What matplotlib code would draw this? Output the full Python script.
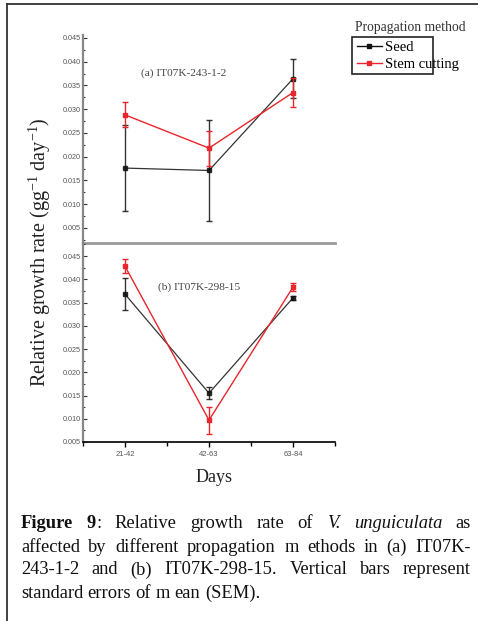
import matplotlib
matplotlib.use("Agg")
import matplotlib.pyplot as plt
from matplotlib.lines import Line2D
from matplotlib.patches import Rectangle
from matplotlib.ticker import MultipleLocator, FormatStrFormatter

# ---------------- data ----------------
days = ["21-42", "42-63", "63-84"]
yticks = [0.005, 0.010, 0.015, 0.020, 0.025, 0.030, 0.035, 0.040, 0.045]

a_seed = [0.0176, 0.0171, 0.0364]
a_seed_err = [0.0090, 0.0106, 0.0041]
a_stem = [0.0288, 0.0218, 0.0335]
a_stem_err = [0.0026, 0.0037, 0.0030]

b_seed = [0.0368, 0.0155, 0.0360]
b_seed_err = [0.0035, 0.0013, 0.0004]
b_stem = [0.0428, 0.0097, 0.0383]
b_stem_err = [0.0015, 0.0029, 0.0009]

series_labels = ["Seed", "Stem cutting"]
panel_labels = ["(a) IT07K-243-1-2", "(b) IT07K-298-15"]

SERIF = "Liberation Serif"
SANS = "Liberation Sans"
matplotlib.rcParams["mathtext.fontset"] = "custom"
matplotlib.rcParams["mathtext.rm"] = SERIF
matplotlib.rcParams["mathtext.it"] = SERIF + ":italic"
matplotlib.rcParams["mathtext.bf"] = SERIF + ":bold"
matplotlib.rcParams["mathtext.sf"] = SERIF
matplotlib.rcParams["mathtext.default"] = "rm"

# ---------------- figure ----------------
W, H = 478, 621
fig = plt.figure(figsize=(W / 100, H / 100), dpi=100)
RED = "#e8262b"
BLK = "#111111"


def fx(px):
    return px / W


def fy(py):
    return 1 - py / H


L, R = 83, 335
ax_a = fig.add_axes([fx(L), fy(243), fx(R) - fx(L), fy(35) - fy(243)])
ax_b = fig.add_axes([fx(L), fy(442), fx(R) - fx(L), fy(243) - fy(442)])

x = list(range(len(days)))


def draw(ax, seed, seed_err, stem, stem_err):
    ax.errorbar(x, stem, yerr=stem_err, color=RED, marker="s", markersize=3.5,
                lw=1.0, capsize=2.5, elinewidth=1.0, capthick=1.0, zorder=3)
    ax.errorbar(x, seed, yerr=seed_err, color=BLK, marker="s", markersize=3.5,
                lw=0.9, capsize=2.5, elinewidth=1.0, capthick=1.0, zorder=2,
                alpha=0.85)
    ax.set_xlim(-0.5, 2.5)
    ax.set_yticks(yticks)
    ax.yaxis.set_major_formatter(FormatStrFormatter("%.3f"))
    ax.yaxis.set_minor_locator(MultipleLocator(0.0025))
    ax.tick_params(axis="y", which="major", direction="in", length=3, width=0.8,
                   pad=1.5, labelsize=5.2, labelcolor="#555555", color="#333333")
    ax.tick_params(axis="y", which="minor", direction="in", length=1.5,
                   width=0.8, color="#333333")
    for lab in ax.get_yticklabels():
        lab.set_fontfamily(SANS)
    ax.spines["right"].set_visible(False)
    ax.spines["top"].set_visible(False)
    ax.spines["left"].set_color("#888888")
    ax.spines["left"].set_linewidth(1.6)
    ax.patch.set_alpha(0)


draw(ax_a, a_seed, a_seed_err, a_stem, a_stem_err)
draw(ax_b, b_seed, b_seed_err, b_stem, b_stem_err)
ax_a.set_ylim(0.00184, 0.0456)
ax_b.set_ylim(0.005, 0.0478)

# top panel: no x axis, grey separator as bottom spine
ax_a.set_xticks([])
ax_a.spines["bottom"].set_color("#999999")
ax_a.spines["bottom"].set_linewidth(2.0)

ax_b.set_xticks(x)
ax_b.set_xticklabels(days, fontfamily=SANS)
ax_b.xaxis.set_minor_locator(MultipleLocator(0.5))
ax_b.tick_params(axis="x", which="major", direction="out", length=3.5, width=1.0,
                 labelsize=5.5, labelcolor="#555555", pad=3)
ax_b.tick_params(axis="x", which="minor", direction="out", length=3, width=1.0)
ax_b.spines["bottom"].set_color("#111111")
ax_b.spines["bottom"].set_linewidth(1.3)

# panel annotations
fig.text(fx(141), fy(73), panel_labels[0], fontfamily=SERIF, fontsize=8.2,
         color="#444444", va="center", ha="left")
fig.text(fx(158), fy(287), panel_labels[1], fontfamily=SERIF, fontsize=8.2,
         color="#444444", va="center", ha="left")

# axis labels
fig.text(fx(40), fy(252), r"Relative growth rate (gg$^{-1}$ day$^{-1}$)",
         fontfamily=SERIF, fontsize=14.5, rotation=90, ha="center",
         va="center", color="#222222")
fig.text(fx(214), fy(477), "Days", fontfamily=SERIF, fontsize=13,
         ha="center", va="center", color="#222222")

# legend
handles = [Line2D([], [], color=BLK, marker="s", markersize=3.5, lw=1.0),
           Line2D([], [], color=RED, marker="s", markersize=3.5, lw=1.0)]
leg = fig.legend(handles, series_labels, loc="upper left",
                 bbox_to_anchor=(fx(357), fy(41)), frameon=False,
                 prop={"family": SERIF, "size": 10.5}, handlelength=1.7,
                 handletextpad=0.25, borderpad=0, labelspacing=0.25,
                 borderaxespad=0)
fig.text(fx(355), fy(28), "Propagation method", fontfamily=SERIF,
         fontsize=9.8, ha="left", va="center", color="#333333")
fig.add_artist(Rectangle((fx(352), fy(74)), fx(433) - fx(352), fy(37) - fy(74),
                         transform=fig.transFigure, fill=False,
                         edgecolor="#222222", lw=1.2))

# outer frame
fig.add_artist(Line2D([fx(7), fx(7)], [fy(4), 0], transform=fig.transFigure,
                      color="#333333", lw=1.3))
fig.add_artist(Line2D([fx(7), 1], [fy(4), fy(4)], transform=fig.transFigure,
                      color="#333333", lw=1.3))

# caption (justified)
B, N, I = "bold", "normal", "italic"
cap_lines = [
    [[("Figure", B)], [("9", B), (":", N)], [("Relative", N)], [("growth", N)],
     [("rate", N)], [("of", N)], [("V.", I)], [("unguiculata", I)], [("as", N)]],
    [[("affected", N)], [("by", N)], [("different", N)], [("propagation", N)],
     [("m", N)], [("ethods", N)], [("in", N)], [("(a)", N)], [("IT07K-", N)]],
    [[("243-1-2", N)], [("and", N)], [("(b)", N)], [("IT07K-298-15.", N)],
     [("Vertical", N)], [("bars", N)], [("represent", N)]],
    [[("standard", N)], [("errors", N)], [("of", N)], [("m", N)], [("ean", N)],
     [("(SEM).", N)]],
]
cap_y = [523, 547, 570, 593]
X0, X1 = 21, 471
renderer = fig.canvas.get_renderer()


def mk(s, kind, px, py):
    kw = dict(fontfamily=SERIF, fontsize=13.3, color="#111111",
              va="center", ha="left")
    if kind == B:
        kw["fontweight"] = "bold"
    if kind == I:
        kw["fontstyle"] = "italic"
    return fig.text(fx(px), fy(py), s, **kw)


for li, (words, yy) in enumerate(zip(cap_lines, cap_y)):
    items = []
    widths = []
    for w in words:
        pieces = []
        ww = 0
        for s, kind in w:
            t = mk(s, kind, 0, yy)
            bw = t.get_window_extent(renderer).width
            pieces.append((t, bw))
            ww += bw
        items.append(pieces)
        widths.append(ww)
    if li < len(cap_lines) - 1:
        gap = (X1 - X0 - sum(widths)) / (len(words) - 1)
    else:
        gap = 4.5
    xp = X0
    for pieces, ww in zip(items, widths):
        xx = xp
        for t, bw in pieces:
            t.set_x(fx(xx))
            xx += bw
        xp += ww + gap

fig.savefig("out.png", dpi=100)
